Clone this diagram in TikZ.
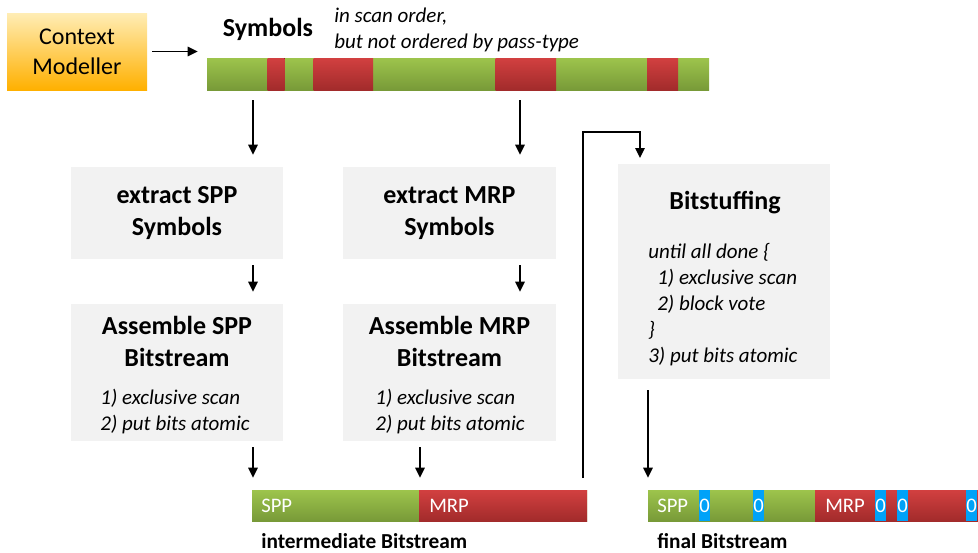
\documentclass[tikz,border=0pt]{standalone}
\usepackage{fontspec}
\setmainfont{Carlito}
\usetikzlibrary{arrows.meta}
\definecolor{boxgray}{HTML}{F2F2F2}
\definecolor{gtop}{HTML}{9DC44C}
\definecolor{gbot}{HTML}{789A38}
\definecolor{rtop}{HTML}{D24040}
\definecolor{rbot}{HTML}{A22B2B}
\definecolor{otop}{HTML}{FFEDB5}
\definecolor{obot}{HTML}{FFB000}
\definecolor{cblue}{HTML}{00A2F8}
\tikzset{
  arr/.style={line width=1pt, -{Triangle[length=7.5pt,width=7.2pt]}},
  gbox/.style={fill=boxgray, draw=none, inner sep=0pt, align=center,
    font=\fontsize{19.5}{23.8}\selectfont\bfseries},
  titletxt/.style={inner sep=0pt, align=center, font=\fontsize{19.5}{23.8}\selectfont\bfseries},
  ittxt/.style={inner sep=0pt, align=left, font=\fontsize{15.75}{19.5}\selectfont\itshape},
  captxt/.style={inner sep=0pt, anchor=west, font=\fontsize{16}{19}\selectfont\bfseries},
  bartxt/.style={inner sep=0pt, anchor=west, text=white, font=\fontsize{15.5}{18}\selectfont},
  zerotxt/.style={inner sep=0pt, text=white, font=\fontsize{15.5}{18}\selectfont},
  greenbar/.style={top color=gtop, bottom color=gbot, draw=none, inner sep=0pt},
  redbar/.style={top color=rtop, bottom color=rbot, draw=none},
  bluecell/.style={fill=cblue, draw=none},
}
\begin{document}
\begin{tikzpicture}[x=0.75pt, y=-0.75pt]
\useasboundingbox (0,0) rectangle (978,553);

% Context modeller
\node[top color=otop, bottom color=obot, draw=none, inner sep=0pt,
  minimum width=105pt, minimum height=57.75pt, align=center,
  font=\fontsize{18}{22.5}\selectfont] (ctx) at (77,51.5) {Context\\Modeller};

% Symbols bar
\node[titletxt] (symlbl) at (268,29) {Symbols};
\node[ittxt, anchor=west] (note1) at (334,17) {in scan order,};
\node[ittxt, anchor=west] (note2) at (334,43) {but not ordered by pass-type};
\node[greenbar, minimum width=376.5pt, minimum height=24pt] (sym) at (458,74) {};
\fill[redbar] (267.5,58) rectangle (284.5,90);
\fill[redbar] (313.5,58) rectangle (373,90);
\fill[redbar] (495.5,58) rectangle (556,90);
\fill[redbar] (647,58) rectangle (678,90);

\draw[arr, shorten <=3.75pt, shorten >=6.75pt] (ctx.east) -- (ctx.east -| sym.west);

% x positions of arrows
\coordinate (xs) at (253,0);
\coordinate (xm) at (520,0);
\coordinate (xmi) at (420,0);
\coordinate (xb) at (648,0);

% Boxes
\node[gbox, minimum width=159pt, minimum height=69pt] (e1) at (177,213) {extract SPP\\Symbols};
\node[gbox, minimum width=159.75pt, minimum height=69pt] (e2) at (449.5,213) {extract MRP\\Symbols};
\node[gbox, minimum width=159pt, minimum height=102.75pt] (a1) at (177,372.5) {};
\node[gbox, minimum width=159.75pt, minimum height=102.75pt] (a2) at (449.5,372.5) {};
\node[gbox, minimum width=159pt, minimum height=161.25pt] (bs) at (724,271.5) {};

\node[titletxt] (a1t) at (177,341.5) {Assemble SPP\\Bitstream};
\node[ittxt] (a1i) at (175,412) {1) exclusive scan\\2) put bits atomic};
\node[titletxt] (a2t) at (449.5,341.5) {Assemble MRP\\Bitstream};
\node[ittxt] (a2i) at (450,412) {1) exclusive scan\\2) put bits atomic};

\node[titletxt] (bst) at (725,203) {Bitstuffing};
\node[ittxt, anchor=west] (bsi) at (648,305)
  {until all done \{\\\hspace{6.75pt}1) exclusive scan\\\hspace{6.75pt}2) block vote\\\}\\3) put bits atomic};

% Intermediate bitstream
\node[greenbar, minimum width=251.25pt, minimum height=23.25pt] (ib) at (419.5,505.5) {};
\fill[redbar] (419,490) rectangle (587,521);
\node[bartxt] (ibs) at (261,505.5) {SPP};
\node[bartxt] (ibm) at (429,505.5) {MRP};
\node[captxt] (ibc) at (261,541) {intermediate Bitstream};

% Final bitstream
\node[greenbar, minimum width=247.5pt, minimum height=23.25pt] (fb) at (813,505.5) {};
\fill[redbar] (815,490) rectangle (978,521);
\fill[bluecell] (699,490) rectangle (710,521);
\fill[bluecell] (753,490) rectangle (764,521);
\fill[bluecell] (875,490) rectangle (886,521);
\fill[bluecell] (897,490) rectangle (908,521);
\fill[bluecell] (966,490) rectangle (977,521);
\node[bartxt] (fbs) at (657,505.5) {SPP};
\node[bartxt] (fbm) at (825,505.5) {MRP};
\node[zerotxt] (z1) at (704.5,505.5) {0};
\node[zerotxt] (z2) at (758.5,505.5) {0};
\node[zerotxt] (z3) at (880.5,505.5) {0};
\node[zerotxt] (z4) at (902.5,505.5) {0};
\node[zerotxt] (z5) at (971.5,505.5) {0};
\node[captxt] (fbc) at (657,541) {final Bitstream};

% Arrows
\draw[arr, shorten <=7.5pt, shorten >=9pt] (sym.south -| xs) -- (e1.north -| xs);
\draw[arr, shorten <=7.5pt, shorten >=9pt] (sym.south -| xm) -- (e2.north -| xm);
\draw[arr, shorten <=4.5pt, shorten >=9pt] (e1.south -| xs) -- (a1.north -| xs);
\draw[arr, shorten <=4.5pt, shorten >=9pt] (e2.south -| xm) -- (a2.north -| xm);
\draw[arr, shorten <=4.5pt, shorten >=9pt] (a1.south -| xs) -- (ib.north -| xs);
\draw[arr, shorten <=4.5pt, shorten >=9pt] (a2.south -| xmi) -- (ib.north -| xmi);
\draw[arr, shorten <=8.25pt, shorten >=9pt] (bs.south -| xb) -- (fb.north -| xb);

\coordinate (loopstart) at (583,490);
\coordinate (loopturn) at (640,132);
\coordinate (bsin) at (640,164);
\draw[arr, shorten <=9pt, shorten >=4.5pt] (loopstart) |- (loopturn) -- (bsin);
\end{tikzpicture}
\end{document}
